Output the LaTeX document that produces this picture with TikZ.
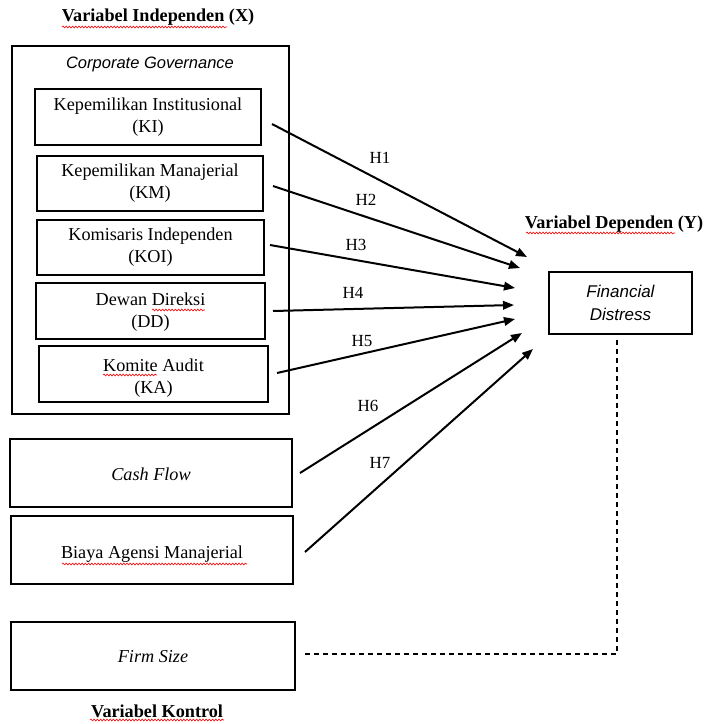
\documentclass[tikz,border=0pt]{standalone}
\usepackage{fontspec}
\setmainfont{Liberation Serif}
\newfontfamily\sansfam{Liberation Sans}
\usetikzlibrary{arrows.meta,decorations.pathmorphing}
\begin{document}
\begin{tikzpicture}[x=1pt,y=-1pt,
  boxbase/.style={draw, rectangle, inner sep=0pt, align=center},
  thinbox/.style={boxbase, line width=1.5pt},
  thickbox/.style={boxbase, line width=2.2pt},
  txt/.style={font=\fontsize{18.2}{22}\selectfont, align=center, inner sep=0pt},
  ttl/.style={font=\fontsize{18.2}{22}\selectfont\bfseries, inner sep=0pt},
  hlab/.style={font=\fontsize{17}{20}\selectfont, inner sep=0pt},
  conn/.style={line width=2pt, -{Triangle[length=11pt,width=8.5pt]}},
  spell/.style={red, line width=0.6pt, decorate, decoration={snake, amplitude=0.9pt, segment length=3.2pt}},
  ctrl/.style={line width=1.1pt, dash pattern=on 5pt off 4pt}
]
\useasboundingbox (0,0) rectangle (705,724);

% titles
\node[ttl] (tx) at (158,17) {Variabel Independen (X)};
\node[ttl] (ty) at (614,224) {Variabel Dependen (Y)};
\node[ttl] (tk) at (157,711) {Variabel Kontrol};

% outer group
\node[thickbox, minimum width=277pt, minimum height=368pt] (cg) at (150.5,230) {};
\node[font=\sansfam\itshape\fontsize{16.5}{20}\selectfont, inner sep=0pt] (cgl) at (150,64) {Corporate Governance};

% inner boxes
\node[thinbox, minimum width=226pt, minimum height=56pt] (ki) at (148,117) {};
\node[txt] (kit) at (148,117) {Kepemilikan Institusional\\(KI)};
\node[thinbox, minimum width=226pt, minimum height=55pt] (km) at (150,183.5) {};
\node[txt] (kmt) at (150,183) {Kepemilikan Manajerial\\(KM)};
\node[thinbox, minimum width=227pt, minimum height=55pt] (koi) at (150.5,247.5) {};
\node[txt] (koit) at (150.5,247.5) {Komisaris Independen\\(KOI)};
\node[thickbox, minimum width=229pt, minimum height=56pt] (dd) at (150.5,311) {};
\node[txt] (ddt) at (150.5,312) {Dewan Direksi\\(DD)};
\node[thickbox, minimum width=229pt, minimum height=56pt] (ka) at (153.5,374) {};
\node[txt] (kat) at (153.5,378) {Komite Audit\\(KA)};

% other independent boxes
\node[thickbox, minimum width=282pt, minimum height=68pt] (cf) at (151,473) {};
\node[txt, font=\fontsize{18.2}{22}\selectfont\itshape] (cft) at (151,474) {Cash Flow};
\node[thickbox, minimum width=282pt, minimum height=68pt] (ba) at (152,550) {};
\node[txt] (bat) at (152,554) {Biaya Agensi Manajerial};

% control
\node[thickbox, minimum width=284pt, minimum height=68pt] (fs) at (153,656) {};
\node[txt, font=\fontsize{18.2}{22}\selectfont\itshape] (fst) at (153,657) {Firm Size};

% dependent
\node[thickbox, minimum width=143pt, minimum height=62pt] (fd) at (620.5,303) {};
\node[font=\sansfam\itshape\fontsize{17}{23}\selectfont, align=center, inner sep=0pt] (fdt) at (620.5,303) {Financial\\Distress};

% connector endpoints
\coordinate (s1) at (272,124); \coordinate (e1) at (527,257);
\coordinate (s2) at (273,186); \coordinate (e2) at (520,268);
\coordinate (s3) at (270,245); \coordinate (e3) at (515,288);
\coordinate (s4) at (273,311); \coordinate (e4) at (514,305);
\coordinate (s5) at (277,373); \coordinate (e5) at (515,319);
\coordinate (s6) at (300,473); \coordinate (e6) at (522,333);
\coordinate (s7) at (305,552); \coordinate (e7) at (533,349);

\draw[conn] (s1) -- (e1);
\draw[conn] (s2) -- (e2);
\draw[conn] (s3) -- (e3);
\draw[conn] (s4) -- (e4);
\draw[conn] (s5) -- (e5);
\draw[conn] (s6) -- (e6);
\draw[conn] (s7) -- (e7);

\node[hlab] (h1) at (380,158) {H1};
\node[hlab] (h2) at (366,200) {H2};
\node[hlab] (h3) at (356,245) {H3};
\node[hlab] (h4) at (353,293) {H4};
\node[hlab] (h5) at (362,341) {H5};
\node[hlab] (h6) at (368,406) {H6};
\node[hlab] (h7) at (380,463) {H7};

% control connector
\coordinate (c0) at (305,654);
\coordinate (c1) at (617,654);
\coordinate (c2) at (617,340);
\draw[ctrl] (c0) -- (c1) -- (c2);

% spell-check squiggles
\draw[spell] (62,27) -- (227,27);
\draw[spell] (526,233) -- (675,233);
\draw[spell] (152,310) -- (205,310);
\draw[spell] (103,375) -- (157,375);
\draw[spell] (62,564) -- (247,564);
\draw[spell] (90,720) -- (224,720);
\end{tikzpicture}
\end{document}
